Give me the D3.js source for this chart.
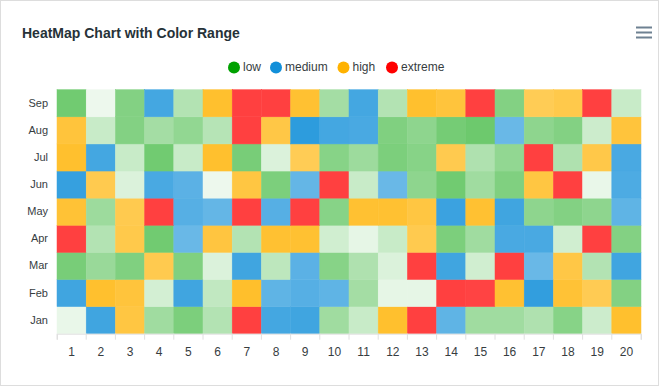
<!DOCTYPE html>
<html>
<head>
<meta charset="utf-8">
<script src="https://cdn.jsdelivr.net/npm/d3@7"></script>
<style>
  body { margin: 0; background: #fff; }
  svg { display: block; font-family: Helvetica, Arial, "Liberation Sans", sans-serif; }
</style>
</head>
<body>
<div id="chart"></div>
<script>
var months = ["Jan", "Feb", "Mar", "Apr", "May", "Jun", "Jul", "Aug", "Sep"];
var columns = ["1", "2", "3", "4", "5", "6", "7", "8", "9", "10",
               "11", "12", "13", "14", "15", "16", "17", "18", "19", "20"];

// one row per month, bottom (Jan) to top (Sep)
var janValues = [-29, 16, 32, -9, 1, -14, 50, 15, 16, -9, -20, 42, 50, 9, -9, -9, -13, -2, -21, 42];
var febValues = [16, 42, 35, -23, 16, -18, 43, 9, 11, 9, -10, -28, -28, 50, 48, 40, 19, 38, 23, -1];
var marValues = [2, -7, 0, 25, 0, -25, 16, -17, 10, -2, -13, -25, 50, 16, -22, 50, 7, 30, -14, 16];
var aprValues = [50, -14, 27, 4, 7, 33, -14, 40, 40, -22, -28, -20, 25, 1, -9, 14, 14, -22, 50, -1];
var mayValues = [38, -8, 25, 50, 11, 8, 50, 11, 50, -2, 40, 40, 32, 17, 40, 16, -4, -1, -4, 9];
var junValues = [18, 25, -25, 14, 10, -30, 32, 1, 8, 50, -20, 7, -4, 4, -9, 0, 32, 50, -29, 13];
var julValues = [42, 15, -20, 4, -20, 42, 2, -25, 22, -2, -8, 1, -2, 25, -13, -5, 50, -13, 28, 14];
var augValues = [35, -20, -1, -10, -5, -15, 50, 30, 20, 15, 14, 0, -4, 3, 5, 7, -4, -1, -21, 35];
var sepValues = [4, -30, -1, 15, -14, 42, 50, 50, 40, -10, 15, -14, 42, 35, 50, -1, 22, 27, 50, -20];
var seriesValues = [janValues, febValues, marValues, aprValues, mayValues,
                    junValues, julValues, augValues, sepValues];

var rangeNames = ["low", "medium", "high", "extreme"];
var rangeFrom = [-30, 6, 21, 46];
var rangeTo = [5, 20, 45, 55];
var rangeColors = ["#00A100", "#128FD9", "#FFB200", "#FF0000"];

var width = 662, height = 387;
var margin = { left: 57, right: 21, top: 89.7, bottom: 53.3 };
var shadeIntensity = 0.5;

function cellColor(v) {
    var k = 0;
    for (var i = 0; i < rangeFrom.length; i++) {
        if (v >= rangeFrom[i] && v <= rangeTo[i]) k = i;
    }
    var span = Math.abs(rangeFrom[k]) + Math.abs(rangeTo[k]);
    var pct = v / span;
    var mix = pct <= 0 ? 1 - (1 + pct) * shadeIntensity : (1 - pct) * shadeIntensity;
    return d3.interpolateRgb(rangeColors[k], "#ffffff")(mix);
}

var svg = d3.select("#chart")
  .append("svg")
  .attr("width", width)
  .attr("height", height);

svg.append("rect")
  .attr("x", 0.5)
  .attr("y", 0.5)
  .attr("width", 658)
  .attr("height", 385)
  .attr("fill", "#fff")
  .attr("stroke", "#dddddd");

svg.append("text")
  .attr("x", 22)
  .attr("y", 38)
  .attr("fill", "#263238")
  .attr("font-weight", "bold")
  .style("font-size", "14px")
  .text("HeatMap Chart with Color Range");

// menu icon
svg.append("path")
  .attr("stroke", "#6e8192")
  .attr("stroke-width", 2)
  .attr("fill", "none")
  .attr("d", "M 636 27.5 l 16 0 M 636 32.5 l 16 0 M 636 37.5 l 16 0");

// legend
var legendX = [234, 276, 343.5, 392];
var legend = svg.append("g");
rangeNames.forEach(function(name, i) {
    legend.append("circle")
      .attr("cx", legendX[i])
      .attr("cy", 67.5)
      .attr("r", 6)
      .attr("fill", rangeColors[i]);
    legend.append("text")
      .attr("x", legendX[i] + 9)
      .attr("y", 70.5)
      .attr("fill", "#373d3f")
      .style("font-size", "12px")
      .text(name);
});

var x = d3.scaleBand()
  .domain(columns)
  .range([margin.left, width - margin.right]);

var y = d3.scaleBand()
  .domain(months)
  .range([height - margin.bottom, margin.top]);

var cells = [];
seriesValues.forEach(function(row, i) {
    row.forEach(function(v, j) {
        cells.push({ month: months[i], col: columns[j], value: v });
    });
});

svg.append("g")
  .selectAll("rect")
  .data(cells)
  .enter()
  .append("rect")
  .attr("x", function(d) { return x(d.col); })
  .attr("y", function(d) { return y(d.month); })
  .attr("width", x.bandwidth())
  .attr("height", y.bandwidth())
  .attr("fill", function(d) { return cellColor(d.value); })
  .attr("stroke", function(d) { return cellColor(d.value); })
  .attr("stroke-width", 0.5);

var xAxis = svg.append("g")
  .attr("transform", "translate(0," + (height - margin.bottom) + ")")
  .call(d3.axisBottom(x).tickSize(6).tickPadding(8));
xAxis.select(".domain").attr("stroke", "#e0e0e0");
xAxis.selectAll(".tick line").remove();
xAxis.selectAll(".tick text")
  .attr("fill", "#373d3f")
  .style("font-size", "12px")
  .attr("font-family", "Helvetica, Arial, 'Liberation Sans', sans-serif");

// tick marks sit on the column borders
svg.append("g")
  .selectAll("line")
  .data(columns.concat(["end"]))
  .enter()
  .append("line")
  .attr("x1", function(d, i) { return i < columns.length ? x(d) : x(columns[columns.length - 1]) + x.bandwidth(); })
  .attr("x2", function(d, i) { return i < columns.length ? x(d) : x(columns[columns.length - 1]) + x.bandwidth(); })
  .attr("y1", height - margin.bottom)
  .attr("y2", height - margin.bottom + 6)
  .attr("stroke", "#e0e0e0");

var yAxis = svg.append("g")
  .attr("transform", "translate(" + (margin.left - 9) + ",0)")
  .call(d3.axisLeft(y).tickSize(0).tickPadding(0));
yAxis.select(".domain").remove();
yAxis.selectAll(".tick text")
  .attr("fill", "#373d3f")
  .style("font-size", "11px")
  .attr("font-family", "Helvetica, Arial, 'Liberation Sans', sans-serif");
</script>
</body>
</html>
